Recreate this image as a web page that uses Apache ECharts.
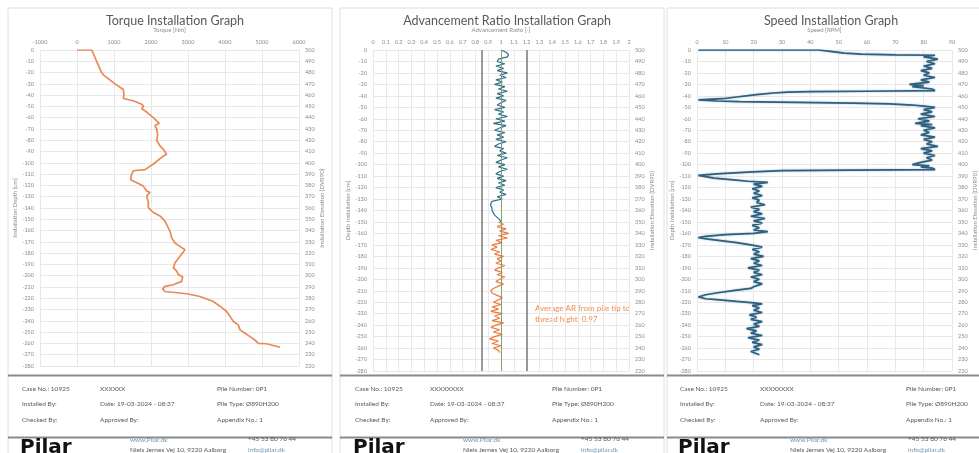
<!DOCTYPE html>
<html><head><meta charset="utf-8">
<script src="https://cdn.jsdelivr.net/npm/echarts@6/dist/echarts.min.js"></script>
<style>html,body{margin:0;padding:0;background:#fff}#c{width:979px;height:453px}</style>
</head><body><div id="c"></div>
<script>
// ---------- DATA ----------
const titles = ['Torque Installation Graph', 'Advancement Ratio Installation Graph', 'Speed Installation Graph'];
const xNames = ['Torque [Nm]', 'Advancement Ratio [-]', 'Speed [RPM]'];
const leftNames = ['Installation Depth [cm]', 'Depth Installation [cm]', 'Depth Installation [cm]'];
const rightName = 'Installation Elevation [DVR90]';

const torqueDepth = [0,0,-10,-20,-22,-30,-35,-40,-43,-45,-48,-50,-52,-55,-60,-65,-67,-70,-75,-80,-85,-88,-92.4,-94,-101,-106,-107,-110,-115,-116,-120.6,-125,-126,-129.5,-135,-139.6,-144,-147,-151.7,-154.7,-157.5,-160.6,-166.5,-171,-174,-177,-178.4,-182.8,-188.6,-193,-196,-199,-201,-205,-208,-209.5,-211.7,-214,-216,-218.4,-222.8,-227,-231.7,-236,-240.6,-243.6,-248,-251,-254,-257,-260,-260.3,-263.4];
const torqueNm = [0,400,530,667,712,1027,1252,1270,1250,1520,1748,1800,1748,1883,2063,2225,2108,2153,2180,2153,2243,2333,2423,2333,2063,1838,1523,1477,1450,1523,1793,1883,1973,1883,1928,1928,2063,2243,2378,2423,2468,2514,2559,2649,2784,2919,2964,2784,2649,2604,2694,2739,2856,2829,2604,2378,2315,2378,2964,3324,3685,3865,4045,4135,4225,4360,4405,4540,4676,4811,4901,5126,5486];

const arBlueDepth = [0,-2,-4,-6,-8,-10,-12,-14,-16,-18,-20,-22,-24,-26,-28,-30,-32,-34,-36,-38,-40,-42,-44,-46,-48,-50,-52,-54,-56,-58,-60,-62,-64,-66,-68,-70,-72,-74,-76,-78,-80,-82,-84,-86,-88,-90,-92,-94,-96,-98,-100,-102,-104,-106,-108,-110,-112,-114,-116,-118,-120,-122,-124,-126,-128,-130,-132,-134,-136,-138,-140,-142,-144,-146,-148,-150];
const arBlue = [1.00,1.04,1.06,1.05,0.98,0.97,1.03,0.96,1.02,0.97,1.05,0.99,1.04,0.96,1.01,0.95,1.03,0.98,1.05,0.97,1.02,0.96,1.04,1.00,0.97,1.03,0.95,1.02,0.98,1.05,0.96,1.03,0.94,1.04,0.99,0.95,1.03,0.97,1.02,0.96,1.04,0.98,0.95,1.02,0.99,1.04,0.97,1.05,1.00,0.96,1.03,0.98,1.05,0.99,0.96,1.02,0.97,1.04,0.98,1.03,0.96,1.02,0.99,1.04,0.97,1.01,0.93,0.92,0.92,0.93,0.93,0.94,0.95,0.97,0.99,1.00];
const arOrangeDepth = [-150,-152,-154,-156,-158,-160,-162,-164,-166,-168,-170,-172,-174,-176,-178,-180,-182,-184,-186,-188,-190,-192,-194,-196,-198,-200,-202,-204,-206,-208,-210,-212,-214,-216,-218,-220,-222,-224,-226,-228,-230,-232,-234,-236,-238,-240,-242,-244,-246,-248,-250,-252,-254,-256,-258,-260,-262,-264];
const arOrange = [0.98,1.02,0.97,1.04,0.99,1.06,0.98,1.05,0.96,1.01,0.93,0.97,0.92,0.99,0.95,1.02,0.97,1.00,0.96,1.03,0.98,0.95,1.01,0.97,1.03,0.99,0.96,1.02,0.98,0.94,0.92,0.93,0.97,1.01,0.98,0.94,1.00,0.93,0.98,0.92,1.01,0.95,0.99,0.93,1.02,0.96,0.92,0.99,0.94,1.01,0.95,0.91,0.98,0.93,1.00,0.94,0.98,0.99];
const arLimits = [0.85, 1.2];
const arTarget = 1.0;
const arNote = 'Average AR from pile tip to\nthread hight: 0.97';

const speedDepth = [0,0,-1.2,-2.7,-3.6,-4.2,-4.6,-6,-8,-10,-12,-14,-16,-18,-20,-22,-24,-26,-28,-30,-31,-32,-34,-35.5,-36,-36.3,-36.8,-37.5,-39,-41,-42.5,-43.5,-44.5,-45,-45.6,-46.3,-47,-48,-49,-50,-52,-54,-56,-58,-60,-62,-64,-65,-66,-68,-70,-72,-74,-76,-78,-80,-82,-84,-86,-88,-90,-92,-94,-96,-98,-100,-101,-102,-103,-104.3,-104.8,-105.3,-106.5,-108,-109.3,-110.5,-111.7,-113,-114.5,-115.4,-117,-119,-121,-123,-125,-127,-129,-131,-133,-135,-137,-139,-141,-143,-145,-147,-149,-151,-153,-155,-157,-158.5,-160,-161,-162.5,-163.6,-165,-166.5,-168,-170.4,-171.9,-174,-176,-178,-180,-182,-184,-186,-188,-190,-192,-194,-196,-198,-200,-202,-204,-206.5,-208,-209.5,-211.5,-213.5,-215.4,-217,-217.8,-219.3,-220.5,-221.5,-223,-225,-227,-229,-231,-233,-235,-237,-239,-241,-243,-245,-247,-249,-251,-253,-255,-257,-259,-261,-263,-265.8];
const speedRpm = [0.5,43,47,52,58,70,84,80,85,81,84,80,83,79,82,80,84,79,82,75,80,76,83,84,60,40,32,27,21,14,9,0.5,7,15,35,55,68,76,80,84,80,83,79,84,78,82,77,83,79,84,80,82,79,84,80,83,81,85,79,83,80,84,81,83,79,76,82,79,83,84,55,30,18,7,0.5,3,6,12,18,25,20,23,19.5,22,20,23,19.5,22,21,24,19,22,20,23,19,24,20,23,19.5,22,20,25,20,10,3,0.5,4,9,14,20,23,19.5,22,20,23.5,19,22,20,23,18,22,20,23,19,22,20,23,20,19,14,8,3,0.5,3,7,14,20,23,19.5,22,20,23,18.5,21,19,23,20,22,17.5,21,19,23,18,22,19.5,23,20,22,19,22];

const footerRows = [
  ['Case No.: 10925', null, 'Pile Number: 0P1'],
  ['Installed By:', 'Date: 19-03-2024 - 08:37', 'Pile Type: Ø890H200'],
  ['Checked By:', 'Approved By:', 'Appendix No.: 1']
];
const footerCodes = ['XXXXXX', 'XXXXXXXX', 'XXXXXXXX'];
const contact = ['www.Pilar.dk', 'Niels Jernes Vej 10, 9220 Aalborg', '+45 53 80 76 44', 'info@pilar.dk'];
const logo = 'Pilar';

// ---------- CHART ----------
const FONT = 'Lato, "Open Sans", sans-serif';
const pair = (xs, ds) => xs.map((v, i) => [v, ds[i]]);
const grids = [
  {left: 40, top: 50, width: 259, height: 316},
  {left: 373, top: 50, width: 256, height: 321},
  {left: 697, top: 50, width: 258, height: 321}
];
const xCfg = [
  {min: -1000, max: 6000, interval: 1000},
  {min: 0, max: 2, interval: 0.1},
  {min: 0, max: 90, interval: 10}
];
const tickLabel = {fontSize: 5.5, color: '#8c8c8c', fontFamily: FONT};
const split = {show: true, lineStyle: {color: '#e8e8e8', width: 1}};

const xAxis = [], yAxis = [];
grids.forEach((g, i) => {
  xAxis.push(Object.assign({
    gridIndex: i, type: 'value', position: 'top',
    name: xNames[i], nameLocation: 'middle', nameGap: 17,
    nameTextStyle: {fontSize: 6, color: '#8c8c8c', fontFamily: FONT},
    axisLine: {show: false}, axisTick: {show: false},
    axisLabel: Object.assign({margin: 5, formatter: v => String(+v.toFixed(1))}, tickLabel),
    splitLine: split
  }, xCfg[i]));
  yAxis.push({
    gridIndex: i, type: 'value', position: 'left', min: -280, max: 0, interval: 10,
    name: leftNames[i], nameLocation: 'middle', nameGap: 22,
    nameTextStyle: {fontSize: 6, color: '#8c8c8c', fontFamily: FONT},
    axisLine: {show: false}, axisTick: {show: false},
    axisLabel: Object.assign({margin: 6}, tickLabel),
    splitLine: split
  });
  yAxis.push({
    gridIndex: i, type: 'value', position: 'right', min: 220, max: 500, interval: 10,
    name: rightName, nameLocation: 'middle', nameGap: 20,
    nameTextStyle: {fontSize: 6, color: '#8c8c8c', fontFamily: FONT},
    axisLine: {show: false}, axisTick: {show: false},
    axisLabel: Object.assign({margin: 6}, tickLabel),
    splitLine: {show: false}
  });
});

const series = [
  {type: 'line', xAxisIndex: 0, yAxisIndex: 0, data: pair(torqueNm, torqueDepth),
   showSymbol: false, lineStyle: {color: '#E88A55', width: 1.7}, silent: true},
  {type: 'line', xAxisIndex: 1, yAxisIndex: 2, data: pair(arBlue, arBlueDepth),
   showSymbol: false, lineStyle: {color: '#2F6E8E', width: 1.2}, silent: true, z: 3,
   markLine: {silent: true, symbol: 'none', label: {show: false},
     data: [
       {xAxis: arLimits[0], lineStyle: {color: '#7a7a7a', width: 1.5, type: 'solid'}},
       {xAxis: arLimits[1], lineStyle: {color: '#7a7a7a', width: 1.5, type: 'solid'}},
       {xAxis: arTarget, lineStyle: {color: '#7FA36A', width: 1, type: 'solid'}}
     ]}},
  {type: 'line', xAxisIndex: 1, yAxisIndex: 2, data: pair(arOrange, arOrangeDepth),
   showSymbol: false, lineStyle: {color: '#EE7A3C', width: 1.2}, silent: true, z: 3},
  {type: 'line', xAxisIndex: 2, yAxisIndex: 4, data: pair(speedRpm, speedDepth),
   showSymbol: false, lineStyle: {color: '#2E5F7C', width: 1.7, shadowColor: 'rgba(120,160,190,0.7)', shadowBlur: 2}, silent: true}
];

const graphic = [];
const panels = [[8, 332], [340, 664], [667, 985]];
const cols = [[22, 100, 217, 130, 248, 20], [355, 430, 552, 463, 581, 353], [680, 760, 906, 790, 908, 678]];
const txt = (x, y, s, extra) => ({type: 'text', left: x, top: y, silent: true,
  style: Object.assign({text: s, fontSize: 6.5, fill: '#595959', fontFamily: FONT}, extra || {})});
panels.forEach((p, i) => {
  graphic.push({type: 'rect', shape: {x: p[0], y: 8, width: p[1] - p[0], height: 460}, silent: true,
    style: {fill: 'none', stroke: '#dedede', lineWidth: 1}, z: -1});
  graphic.push({type: 'line', shape: {x1: p[0], y1: 375.5, x2: p[1], y2: 375.5}, silent: true,
    style: {stroke: '#8a8a8a', lineWidth: 2}});
  graphic.push({type: 'line', shape: {x1: p[0], y1: 437.5, x2: p[1], y2: 437.5}, silent: true,
    style: {stroke: '#8a8a8a', lineWidth: 2}});
  const c = cols[i];
  footerRows.forEach((row, r) => {
    const y = 385 + r * 15.5;
    row.forEach((s, k) => {
      const t = s === null ? footerCodes[i] : s;
      graphic.push(txt(c[k], y, t));
    });
  });
  graphic.push(txt(c[3], 436, contact[0], {fill: '#6f97b5'}));
  graphic.push(txt(c[3], 446, contact[1]));
  graphic.push(txt(c[4], 435, contact[2]));
  graphic.push(txt(c[4], 446, contact[3], {fill: '#6f97b5'}));
  graphic.push({type: 'text', left: c[5], top: 438, silent: true,
    style: {text: logo, fontSize: 20, fontWeight: 900, fill: '#111', fontFamily: '"DejaVu Sans", sans-serif'}});
});
graphic.push({type: 'text', left: 535, top: 303, silent: true,
  style: {text: arNote, fontSize: 8, lineHeight: 11, fill: '#F08A50', fontFamily: FONT}});

const title = titles.map((t, i) => ({
  text: t, left: [170, 502, 826][i], top: 9, textAlign: 'center',
  textStyle: {fontSize: 12.5, fontWeight: 'normal', color: '#595959', fontFamily: FONT}
}));

const chart = echarts.init(document.getElementById('c'), null, {renderer: 'canvas'});
chart.setOption({animation: false, backgroundColor: '#fff', title, grid: grids, xAxis, yAxis, series, graphic});
</script></body></html>
